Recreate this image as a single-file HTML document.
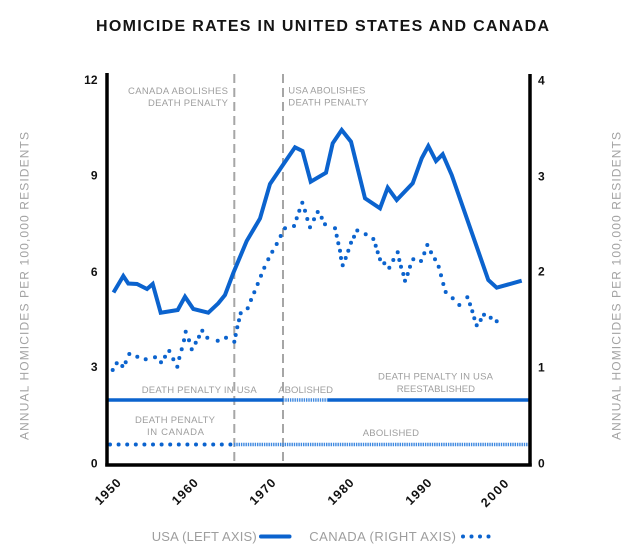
<!DOCTYPE html>
<html>
<head>
<meta charset="utf-8">
<style>
  html, body { margin: 0; padding: 0; background: #ffffff; }
  body { width: 640px; height: 556px; overflow: hidden; }
  svg { display: block; }
  text { font-family: "Liberation Sans", "DejaVu Sans", sans-serif; }
</style>
</head>
<body>
<svg width="640" height="556" viewBox="0 0 640 556" xmlns="http://www.w3.org/2000/svg">
  <rect width="640" height="556" fill="#ffffff"/>

  <!-- Title -->
  <text x="96" y="30.9" font-size="16" font-weight="bold" fill="#141414" textLength="453" lengthAdjust="spacing">HOMICIDE RATES IN UNITED STATES AND CANADA</text>

  <!-- Axis titles -->
  <text transform="translate(28.5,286) rotate(-90)" text-anchor="middle" font-size="12" fill="#a3a3a3" textLength="308" lengthAdjust="spacing">ANNUAL HOMICIDES PER 100,000 RESIDENTS</text>
  <text transform="translate(620.5,286) rotate(-90)" text-anchor="middle" font-size="12" fill="#a3a3a3" textLength="308" lengthAdjust="spacing">ANNUAL HOMICIDES PER 100,000 RESIDENTS</text>

  <!-- Vertical dashed event lines -->
  <line x1="234.3" y1="74" x2="234.3" y2="464" stroke="#a6a6a6" stroke-width="2" stroke-dasharray="9 5"/>
  <line x1="283" y1="74" x2="283" y2="464" stroke="#a6a6a6" stroke-width="2" stroke-dasharray="9 5"/>

  <!-- Annotations top -->
  <g font-size="9.5" fill="#9e9e9e">
  <text x="228" y="94.2" text-anchor="end" textLength="100" lengthAdjust="spacing">CANADA ABOLISHES</text>
  <text x="228" y="106.2" text-anchor="end" textLength="80" lengthAdjust="spacing">DEATH PENALTY</text>
  <text x="288.3" y="93.7" textLength="77" lengthAdjust="spacing">USA ABOLISHES</text>
  <text x="288.3" y="105.5" textLength="80" lengthAdjust="spacing">DEATH PENALTY</text>

  <!-- Annotations bottom -->
  <text x="141.7" y="392.8" textLength="115" lengthAdjust="spacing">DEATH PENALTY IN USA</text>
  <text x="278.3" y="392.8" textLength="54.7" lengthAdjust="spacing">ABOLISHED</text>
  <text x="378" y="379.6" textLength="115" lengthAdjust="spacing">DEATH PENALTY IN USA</text>
  <text x="396.7" y="391.8" textLength="78.3" lengthAdjust="spacing">REESTABLISHED</text>
  <text x="135" y="422.8" textLength="80" lengthAdjust="spacing">DEATH PENALTY</text>
  <text x="147" y="435.2" textLength="57" lengthAdjust="spacing">IN CANADA</text>
  <text x="362.7" y="435.8" textLength="56.3" lengthAdjust="spacing">ABOLISHED</text>
  </g>

  <!-- USA death penalty bar -->
  <line x1="107" y1="400" x2="283" y2="400" stroke="#0b63ce" stroke-width="3.6"/>
  <line x1="283" y1="400" x2="328" y2="400" stroke="#3f89e0" stroke-width="3.6" stroke-dasharray="1.4 0.9"/>
  <line x1="328" y1="400" x2="530" y2="400" stroke="#0b63ce" stroke-width="3.6"/>

  <!-- Canada death penalty bar -->
  <g fill="#0b63ce">
    <circle cx="110" cy="444.5" r="2"/>
    <circle cx="118.6" cy="444.5" r="2"/>
    <circle cx="127.2" cy="444.5" r="2"/>
    <circle cx="135.8" cy="444.5" r="2"/>
    <circle cx="144.4" cy="444.5" r="2"/>
    <circle cx="153" cy="444.5" r="2"/>
    <circle cx="161.6" cy="444.5" r="2"/>
    <circle cx="170.2" cy="444.5" r="2"/>
    <circle cx="178.8" cy="444.5" r="2"/>
    <circle cx="187.4" cy="444.5" r="2"/>
    <circle cx="196" cy="444.5" r="2"/>
    <circle cx="204.6" cy="444.5" r="2"/>
    <circle cx="213.2" cy="444.5" r="2"/>
    <circle cx="221.8" cy="444.5" r="2"/>
    <circle cx="230.4" cy="444.5" r="2"/>
  </g>
  <line x1="234" y1="444.5" x2="530" y2="444.5" stroke="#3f89e0" stroke-width="3.6" stroke-dasharray="1.4 0.9"/>

  <!-- USA series -->
  <polyline fill="none" stroke="#0b63ce" stroke-width="4" stroke-linejoin="miter" stroke-linecap="butt"
    points="113.5,292.5 123.3,276 128.3,283.5 137,284 147,289 152.7,284 160.7,312.7 177.7,310 185,296.7 193.3,309 208.3,312.7 218.3,303.3 225,295 233.3,273 246.7,241 260,218.5 270,184 281.7,166.7 295,147.3 302.5,151 310.7,181.7 326,172.7 332.7,143.3 341.7,130 351,141.7 365,198.3 380,208.3 387.7,187.7 396.7,200 412.7,183.3 421.7,158.3 428.3,146 436,161 442.7,154.3 451.7,175 488.3,280 496.7,287.7 521.7,280.7"/>

  <!-- Canada series (dots) -->
  <g fill="#0b63ce">
    <circle cx="112.7" cy="370" r="2"/>
    <circle cx="116.7" cy="363.3" r="2"/>
    <circle cx="122.3" cy="366" r="2"/>
    <circle cx="125.7" cy="362.3" r="2"/>
    <circle cx="129.3" cy="354" r="2"/>
    <circle cx="137.3" cy="356.7" r="2"/>
    <circle cx="145.7" cy="359.3" r="2"/>
    <circle cx="155" cy="357.3" r="2"/>
    <circle cx="161" cy="362.3" r="2"/>
    <circle cx="165" cy="356.7" r="2"/>
    <circle cx="169.3" cy="351" r="2"/>
    <circle cx="173.3" cy="359.3" r="2"/>
    <circle cx="177.3" cy="366.7" r="2"/>
    <circle cx="179.3" cy="358" r="2"/>
    <circle cx="181.7" cy="349.3" r="2"/>
    <circle cx="184" cy="340.3" r="2"/>
    <circle cx="185.7" cy="331.7" r="2"/>
    <circle cx="189" cy="340.3" r="2"/>
    <circle cx="191.7" cy="349.3" r="2"/>
    <circle cx="195.7" cy="342.7" r="2"/>
    <circle cx="199" cy="336.7" r="2"/>
    <circle cx="202.3" cy="330.7" r="2"/>
    <circle cx="207.3" cy="337.7" r="2"/>
    <circle cx="217.7" cy="340.7" r="2"/>
    <circle cx="226" cy="337.7" r="2"/>
    <circle cx="234.3" cy="341.7" r="2"/>
    <circle cx="235.7" cy="335" r="2"/>
    <circle cx="237.3" cy="327.3" r="2"/>
    <circle cx="239" cy="320.3" r="2"/>
    <circle cx="240.7" cy="313.3" r="2"/>
    <circle cx="247.7" cy="308.3" r="2"/>
    <circle cx="251" cy="300" r="2"/>
    <circle cx="254.3" cy="292.3" r="2"/>
    <circle cx="257.7" cy="284" r="2"/>
    <circle cx="261" cy="275.7" r="2"/>
    <circle cx="264.3" cy="267.7" r="2"/>
    <circle cx="268.3" cy="259.3" r="2"/>
    <circle cx="272.3" cy="251.7" r="2"/>
    <circle cx="276.7" cy="244" r="2"/>
    <circle cx="280.7" cy="236" r="2"/>
    <circle cx="285" cy="228.3" r="2"/>
    <circle cx="294" cy="226" r="2"/>
    <circle cx="296.7" cy="218.3" r="2"/>
    <circle cx="299.3" cy="210.7" r="2"/>
    <circle cx="302.3" cy="202.7" r="2"/>
    <circle cx="305" cy="210.7" r="2"/>
    <circle cx="307.3" cy="219" r="2"/>
    <circle cx="310" cy="227.3" r="2"/>
    <circle cx="314" cy="219.3" r="2"/>
    <circle cx="317.7" cy="212" r="2"/>
    <circle cx="321.7" cy="217.7" r="2"/>
    <circle cx="325" cy="224.3" r="2"/>
    <circle cx="335" cy="228.3" r="2"/>
    <circle cx="336.7" cy="235.7" r="2"/>
    <circle cx="338.3" cy="243.3" r="2"/>
    <circle cx="340" cy="250.7" r="2"/>
    <circle cx="341" cy="258" r="2"/>
    <circle cx="342.7" cy="265.3" r="2"/>
    <circle cx="345.7" cy="258" r="2"/>
    <circle cx="348.3" cy="250.7" r="2"/>
    <circle cx="351" cy="242.7" r="2"/>
    <circle cx="354" cy="236.7" r="2"/>
    <circle cx="357.3" cy="230.5" r="2"/>
    <circle cx="365.7" cy="234.3" r="2"/>
    <circle cx="373.3" cy="239" r="2"/>
    <circle cx="375.7" cy="245.7" r="2"/>
    <circle cx="377.7" cy="252.3" r="2"/>
    <circle cx="380" cy="259.3" r="2"/>
    <circle cx="384.3" cy="263.3" r="2"/>
    <circle cx="389.3" cy="267.7" r="2"/>
    <circle cx="393.3" cy="260" r="2"/>
    <circle cx="397.7" cy="252.3" r="2"/>
    <circle cx="399.3" cy="260" r="2"/>
    <circle cx="401" cy="266.7" r="2"/>
    <circle cx="403.3" cy="274" r="2"/>
    <circle cx="405" cy="280.7" r="2"/>
    <circle cx="407.7" cy="274" r="2"/>
    <circle cx="410" cy="266.7" r="2"/>
    <circle cx="413.3" cy="259.3" r="2"/>
    <circle cx="421" cy="261" r="2"/>
    <circle cx="424.3" cy="253.3" r="2"/>
    <circle cx="427.3" cy="245" r="2"/>
    <circle cx="431" cy="252.3" r="2"/>
    <circle cx="435" cy="259.3" r="2"/>
    <circle cx="438.7" cy="266.7" r="2"/>
    <circle cx="441" cy="275.3" r="2"/>
    <circle cx="443.3" cy="284" r="2"/>
    <circle cx="445.7" cy="292" r="2"/>
    <circle cx="452.7" cy="298.3" r="2"/>
    <circle cx="459.3" cy="305" r="2"/>
    <circle cx="467.3" cy="297.3" r="2"/>
    <circle cx="470" cy="304.3" r="2"/>
    <circle cx="472.3" cy="311.3" r="2"/>
    <circle cx="474.3" cy="318.3" r="2"/>
    <circle cx="476.7" cy="325.3" r="2"/>
    <circle cx="480.7" cy="320" r="2"/>
    <circle cx="484" cy="314.7" r="2"/>
    <circle cx="490.7" cy="317.7" r="2"/>
    <circle cx="496.7" cy="321.3" r="2"/>
  </g>

  <!-- Axes -->
  <line x1="107" y1="73" x2="107" y2="466.5" stroke="#000" stroke-width="3.5"/>
  <line x1="530" y1="74" x2="530" y2="466.5" stroke="#000" stroke-width="3.5"/>
  <line x1="105.3" y1="465" x2="531.7" y2="465" stroke="#000" stroke-width="3.5"/>

  <!-- Left tick labels -->
  <g font-size="12" font-weight="bold" fill="#111" text-anchor="end">
    <text x="97.5" y="84">12</text>
    <text x="97.5" y="179.5">9</text>
    <text x="97.5" y="275.8">6</text>
    <text x="97.5" y="371.2">3</text>
    <text x="97.5" y="467.6">0</text>
  </g>
  <!-- Right tick labels -->
  <g font-size="12" font-weight="bold" fill="#111" text-anchor="start">
    <text x="538" y="84.3">4</text>
    <text x="538" y="180.3">3</text>
    <text x="538" y="275.5">2</text>
    <text x="538" y="371.3">1</text>
    <text x="538" y="467.3">0</text>
  </g>

  <!-- X tick labels -->
  <g font-size="12.5" font-weight="bold" fill="#111" text-anchor="middle">
    <text transform="translate(107.5,491.5) rotate(-45)" y="4.5" textLength="31" lengthAdjust="spacing">1950</text>
    <text transform="translate(184.6,491.5) rotate(-45)" y="4.5" textLength="31" lengthAdjust="spacing">1960</text>
    <text transform="translate(262.3,491.5) rotate(-45)" y="4.5" textLength="31" lengthAdjust="spacing">1970</text>
    <text transform="translate(340.4,491.5) rotate(-45)" y="4.5" textLength="31" lengthAdjust="spacing">1980</text>
    <text transform="translate(418.3,491.5) rotate(-45)" y="4.5" textLength="31" lengthAdjust="spacing">1990</text>
    <text transform="translate(494.5,493) rotate(-45)" y="4.5" textLength="33" lengthAdjust="spacing">2000</text>
  </g>

  <!-- Legend -->
  <text x="151.7" y="541.2" font-size="13" fill="#9e9e9e" textLength="105" lengthAdjust="spacing">USA (LEFT AXIS)</text>
  <line x1="261" y1="536.5" x2="289.5" y2="536.5" stroke="#0b63ce" stroke-width="4" stroke-linecap="round"/>
  <text x="309.3" y="541.2" font-size="13" fill="#9e9e9e" textLength="146.7" lengthAdjust="spacing">CANADA (RIGHT AXIS)</text>
  <g fill="#0b63ce">
    <circle cx="463" cy="536.5" r="2"/>
    <circle cx="471.5" cy="536.5" r="2"/>
    <circle cx="480" cy="536.5" r="2"/>
    <circle cx="488.5" cy="536.5" r="2"/>
  </g>
</svg>
</body>
</html>
